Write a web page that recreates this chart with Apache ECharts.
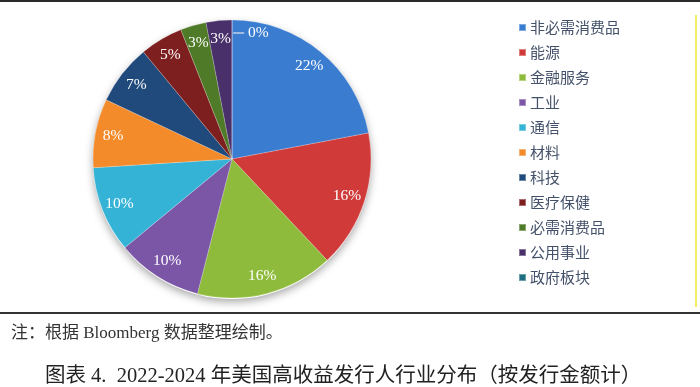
<!DOCTYPE html>
<html>
<head>
<meta charset="utf-8">
<script src="https://cdn.jsdelivr.net/npm/echarts@6/dist/echarts.min.js"></script>
<style>
html,body{margin:0;padding:0;background:#fff;}
#chart{width:700px;height:387px;}
</style>
</head>
<body>
<div id="chart"></div>
<script>
const categories = ['非必需消费品','能源','金融服务','工业','通信','材料','科技','医疗保健','必需消费品','公用事业','政府板块'];
const shares = [22, 16, 16, 10, 10, 8, 7, 5, 3, 3, 0];
const colors = ['#3a7dd0','#d03b3a','#8fbb3d','#7b56a7','#35b3d6','#f38b2b','#1f4a7b','#7d1f1f','#4f7a27','#4a306a','#1d6e80'];
const noteText = '注：根据 Bloomberg 数据整理绘制。';
const captionText = '图表 4.  2022-2024 年美国高收益发行人行业分布（按发行金额计）';

const center = [232, 159];
const R = 139;
const serif = '"Liberation Serif", "Noto Sans CJK SC", serif';

const mainData = categories.map((c, i) => ({ name: c, value: shares[i], itemStyle: { color: colors[i] } }));
const labelData = categories.map((c, i) => {
  const d = { name: c, value: shares[i] };
  if (shares[i] === 0) {
    d.label = { offset: [19, -5], formatter: '{l|}{v| ' + shares[i] + '%}' };
  }
  return d;
});

const chart = echarts.init(document.getElementById('chart'));
chart.setOption({
  animation: false,
  color: colors,
  legend: {
    orient: 'vertical',
    left: 513,
    top: 15,
    itemWidth: 7,
    itemHeight: 7,
    itemGap: 10,
    icon: 'rect',
    data: categories,
    textStyle: { fontSize: 15, lineHeight: 15, color: '#44516a', fontFamily: '"Noto Sans CJK SC", sans-serif', padding: [0,0,0,-1] }
  },
  series: [
    {
      name: 'main',
      type: 'pie',
      z: 2,
      center: center,
      radius: [0, R],
      startAngle: 90,
      clockwise: true,
      silent: true,
      label: { show: false },
      labelLine: { show: false },
      itemStyle: { borderColor: 'rgba(255,255,255,0.35)', borderWidth: 0.6 },
      data: mainData
    },
    {
      name: 'shadow',
      type: 'pie',
      z: 1,
      center: [center[0], center[1] + 1],
      radius: [0, R],
      startAngle: 90,
      silent: true,
      label: { show: false },
      labelLine: { show: false },
      itemStyle: { color: '#ffffff', shadowBlur: 8, shadowOffsetY: 3, shadowColor: 'rgba(0,0,0,0.35)' },
      data: categories.map((c, i) => ({ name: c, value: shares[i] }))
    },
    {
      name: 'labels',
      type: 'pie',
      z: 3,
      center: center,
      radius: [97, R],
      startAngle: 90,
      silent: true,
      itemStyle: { color: 'rgba(0,0,0,0)' },
      label: {
        show: true,
        position: 'inside',
        color: '#ffffff',
        fontSize: 15.5,
        fontFamily: serif,
        formatter: p => p.value + '%',
        rich: {
          l: { width: 11, height: 1.2, backgroundColor: '#e6e6e6' },
          v: { color: '#ffffff', fontSize: 15.5, fontFamily: serif }
        }
      },
      labelLine: { show: false },
      emphasis: { disabled: true },
      data: labelData
    }
  ],
  graphic: [
    { type: 'rect', left: 0, top: 0, shape: { width: 700, height: 2 }, style: { fill: '#2a2a2a' }, silent: true },
    { type: 'rect', left: 695, top: 15, shape: { width: 2, height: 292 }, style: { fill: '#f2ee62' }, silent: true },
    { type: 'rect', left: 0, top: 312, shape: { width: 700, height: 2 }, style: { fill: '#333333' }, silent: true },
    { type: 'text', left: 11, top: 325, style: { text: noteText, fill: '#333333', font: '17px "Liberation Serif", "Noto Sans CJK SC", serif' }, silent: true },
    { type: 'text', left: 45, top: 366, style: { text: captionText, fill: '#222222', font: '20.5px "Liberation Serif", "Noto Sans CJK SC", serif' }, silent: true }
  ]
});
</script>
</body>
</html>
